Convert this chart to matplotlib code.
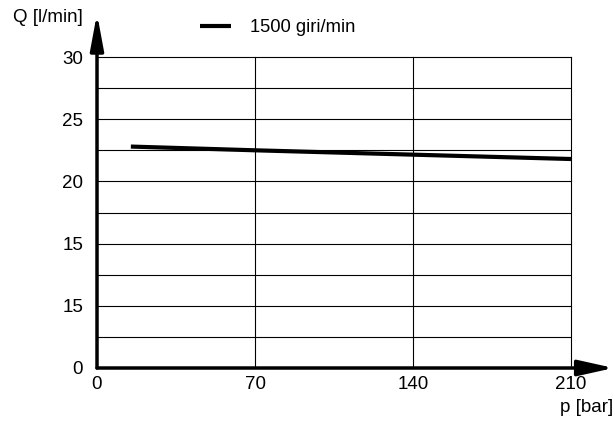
import matplotlib
matplotlib.use("Agg")
import matplotlib.pyplot as plt
from matplotlib.lines import Line2D

plt.rcParams['font.family'] = ['Liberation Sans', 'DejaVu Sans']

# data
pressure = [15, 70, 140, 210]
flow = [22.8, 22.5, 22.15, 21.8]
series_label = "1500 giri/min"
x_ticks = [0, 70, 140, 210]
x_labels = ["0", "70", "140", "210"]
y_ticks = [5, 10, 15, 20, 25, 30]
y_labels = ["0", "15", "15", "20", "25", "30"]
y_minor = [7.5, 12.5, 17.5, 22.5, 27.5]
x_label = "p [bar]"
y_label = "Q [l/min]"

FS = 13.5

fig = plt.figure(figsize=(6.15, 4.3), dpi=100)
ax = fig.add_axes([97/615, 62/430, 474/615, 311/430])
ax.set_xlim(0, 210)
ax.set_ylim(5, 30)

ax.set_xticks(x_ticks)
ax.set_xticklabels(x_labels)
ax.set_yticks(y_ticks)
ax.set_yticklabels(y_labels)
ax.set_yticks(y_minor, minor=True)
ax.tick_params(axis='both', which='both', length=0, labelsize=FS, colors='black')
ax.tick_params(axis='y', pad=10)
ax.tick_params(axis='x', pad=6)
ax.grid(True, which='both', color='black', linewidth=0.8)
for gl in ax.get_xgridlines() + ax.get_ygridlines():
    gl.set_clip_on(False)
ax.set_axisbelow(True)

for s in ['top', 'right', 'left', 'bottom']:
    ax.spines[s].set_visible(False)

ax.plot(pressure, flow, color='black', linewidth=3, solid_capstyle='butt', zorder=4)

# axis arrows
ystyle = dict(arrowstyle='-|>,head_length=1.35,head_width=0.25', color='black',
              lw=2.5, mutation_scale=16, shrinkA=0, shrinkB=0)
xstyle = dict(arrowstyle='-|>,head_length=1.35,head_width=0.3', color='black',
              lw=2.5, mutation_scale=16, shrinkA=0, shrinkB=0)
ax.annotate('', xy=(0, 1.14), xytext=(0, 0), xycoords='axes fraction',
            arrowprops=ystyle, zorder=6)
ax.annotate('', xy=(1.09, 0), xytext=(0, 0), xycoords='axes fraction',
            arrowprops=xstyle, zorder=6)

fig.text(83/615, 1 - 18/430, y_label, ha='right', va='center', fontsize=FS)
fig.text(613/615, 1 - 408/430, x_label, ha='right', va='center', fontsize=FS)

handle = Line2D([0], [0], color='black', linewidth=3, solid_capstyle='butt')
fig.legend([handle], [series_label], loc='center left',
           bbox_to_anchor=(200/615, 1 - 28/430), frameon=False,
           borderpad=0, borderaxespad=0, handlelength=1.7, handletextpad=1.0,
           fontsize=13.2)

fig.savefig('out.png', dpi=100)
